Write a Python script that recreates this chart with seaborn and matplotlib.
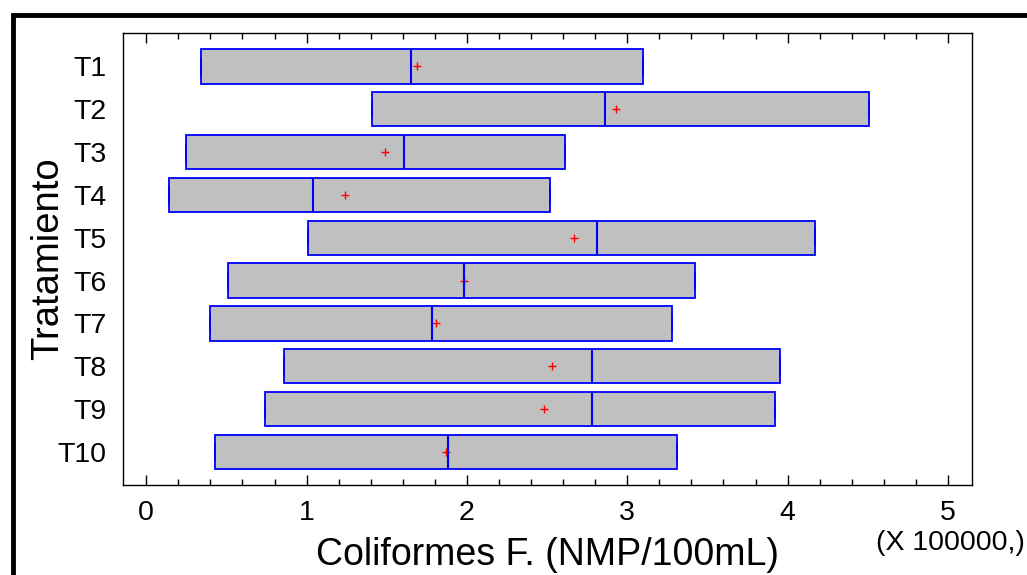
import numpy as np
import pandas as pd
import seaborn as sns
import matplotlib.pyplot as plt
from matplotlib.patches import Rectangle
from matplotlib.ticker import MultipleLocator

# values in units of 100000 NMP/100mL
tratamientos = ['T1', 'T2', 'T3', 'T4', 'T5', 'T6', 'T7', 'T8', 'T9', 'T10']
box_low = [0.34, 1.41, 0.25, 0.14, 1.01, 0.51, 0.40, 0.86, 0.74, 0.43]
medians = [1.65, 2.86, 1.61, 1.04, 2.81, 1.98, 1.78, 2.78, 2.78, 1.88]
box_high = [3.10, 4.51, 2.61, 2.52, 4.17, 3.42, 3.28, 3.95, 3.92, 3.31]
means = [1.69, 2.93, 1.49, 1.24, 2.67, 1.98, 1.81, 2.53, 2.48, 1.87]

# long table for seaborn: box edges = quartiles = whisker ends (zero-length whiskers)
rows = []
for t, lo, md, hi in zip(tratamientos, box_low, medians, box_high):
    for v in (lo, lo, md, hi, hi):
        rows.append({'Tratamiento': t, 'valor': v})
df = pd.DataFrame(rows)

sns.set_style('white')
plt.rcParams['font.family'] = ['Liberation Sans', 'DejaVu Sans']
plt.rcParams['text.color'] = 'black'
plt.rcParams['axes.labelcolor'] = 'black'
plt.rcParams['xtick.color'] = 'black'
plt.rcParams['ytick.color'] = 'black'

fig = plt.figure(figsize=(10.27, 5.75), dpi=100)
ax = fig.add_axes([123/1027, 1-485/575, (972-123)/1027, (485-33)/575])

sns.boxplot(data=df, x='valor', y='Tratamiento', order=tratamientos, orient='h',
            whis=(0, 100), width=0.8, color='#c0c0c0', linecolor='#0000ff',
            linewidth=1.3, saturation=1, ax=ax,
            medianprops={'color': '#0000ff', 'linewidth': 1.5})
sns.pointplot(x=means, y=tratamientos, order=tratamientos, orient='h',
              linestyle='none', marker='+', color='red', markersize=6,
              markeredgewidth=1, errorbar=None, ax=ax)

ax.set_xlim(-0.145, 5.15)
ax.set_ylim(9.77, -0.78)
ax.xaxis.set_major_locator(MultipleLocator(1))
ax.xaxis.set_minor_locator(MultipleLocator(0.2))
ax.tick_params(axis='x', which='major', direction='in', length=7, width=1,
               top=True, bottom=True, labelsize=20.5, pad=11)
ax.tick_params(axis='x', which='minor', direction='in', length=4, width=1,
               top=True, bottom=True)
ax.tick_params(axis='y', length=0, labelsize=20.5, pad=12)
for s in ax.spines.values():
    s.set_color('black')
    s.set_linewidth(1)

ax.set_xlabel('Coliformes F. (NMP/100mL)', fontsize=27, va='center')
ax.xaxis.set_label_coords(0.5, (485-555)/452)
ax.set_ylabel('Tratamiento', fontsize=27.5, va='center')
ax.yaxis.set_label_coords((48-123)/849, 0.5)
fig.text(1025/1027, 1-543/575, '(X 100000,)', fontsize=20.5, ha='right', va='center')

# outer frame, cut off at right and bottom
fig.add_artist(Rectangle((13/1027, -0.1), 1.2, 1-15/575+0.1, transform=fig.transFigure,
                         fill=False, ec='black', lw=3.5))

fig.savefig('out.png', dpi=100)
